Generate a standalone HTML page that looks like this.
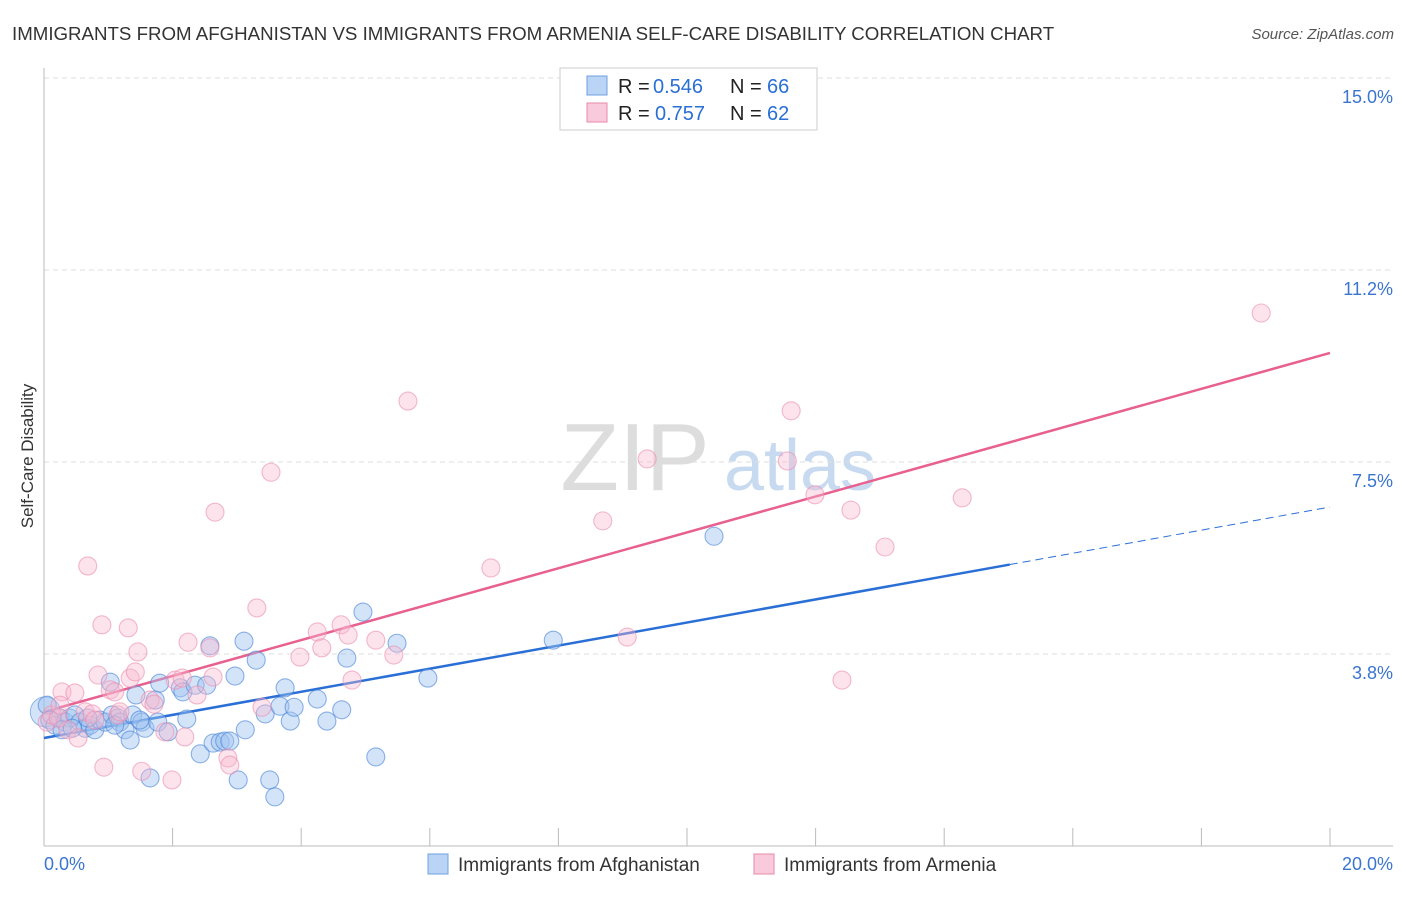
<!DOCTYPE html>
<html><head><meta charset="utf-8"><style>
body{margin:0;background:#fff;font-family:"Liberation Sans",sans-serif}
svg text{font-family:"Liberation Sans",sans-serif}
</style></head><body>
<svg id="chart" width="1406" height="892">
<text x="12" y="40" font-size="18.7" fill="#333">IMMIGRANTS FROM AFGHANISTAN VS IMMIGRANTS FROM ARMENIA SELF-CARE DISABILITY CORRELATION CHART</text>
<text x="1394" y="39" font-size="15" fill="#555" font-style="italic" text-anchor="end">Source: ZipAtlas.com</text>
<text x="33" y="456" font-size="17" fill="#333" transform="rotate(-90 33 456)" text-anchor="middle">Self-Care Disability</text>
<g><text x="635" y="490" font-size="96" fill="#ddd" font-family="Liberation Serif" text-anchor="middle">ZIP</text><text x="800" y="490" font-size="72" fill="#c8daf0" text-anchor="middle">atlas</text></g>
<g id="grid"></g><g id="axes"></g><g id="lines"></g><g id="pts"></g>
<g>
<rect x="560" y="68" width="257" height="62" fill="#fff" stroke="#ccc"/>
<rect x="587" y="76" width="20" height="19" fill="#b9d4f4" stroke="#6f9fe0"/>
<rect x="587" y="103" width="20" height="19" fill="#f9cadb" stroke="#e88aab"/>
<text x="618" y="93" font-size="20" fill="#222">R =</text><text x="653" y="93" font-size="20" fill="#2a6fd6">0.546</text>
<text x="730" y="93" font-size="20" fill="#222">N =</text><text x="767" y="93" font-size="20" fill="#2a6fd6">66</text>
<text x="618" y="120" font-size="20" fill="#222">R =</text><text x="655" y="120" font-size="20" fill="#2a6fd6">0.757</text>
<text x="730" y="120" font-size="20" fill="#222">N =</text><text x="767" y="120" font-size="20" fill="#2a6fd6">62</text>
</g>
<g>
<rect x="428" y="854" width="20" height="20" fill="#b9d4f4" stroke="#6f9fe0"/>
<text x="458" y="871" font-size="19" fill="#333">Immigrants from Afghanistan</text>
<rect x="754" y="854" width="20" height="20" fill="#f9cadb" stroke="#e88aab"/>
<text x="784" y="871" font-size="19" fill="#333">Immigrants from Armenia</text>
</g>
</svg>
<script>
const yTicks=[3.75,7.5,11.25,15];
const yTickLabels=["3.8%","7.5%","11.2%","15.0%"];
const xTicks=[0,2,4,6,8,10,12,14,16,18,20];
const blueX=[0.05,0.09,0.17,0.25,0.33,0.40,0.48,0.56,0.64,0.72,0.79,0.87,0.95,1.03,1.06,1.15,1.18,1.26,1.34,1.38,1.43,1.52,1.57,1.65,1.73,1.77,1.80,1.93,2.12,2.16,2.22,2.35,2.43,2.53,2.58,2.63,2.74,2.81,2.89,2.97,3.02,3.11,3.13,3.30,3.44,3.51,3.59,3.67,3.75,3.83,3.89,4.25,4.40,4.63,4.71,4.96,5.16,5.49,5.97,7.92,10.42,0.28,0.44,0.68,1.10,1.49];
const blueY=[2.75,2.46,2.36,2.50,2.42,2.50,2.56,2.42,2.30,2.36,2.27,2.46,2.42,3.20,2.56,2.50,2.42,2.27,2.07,2.56,2.95,2.42,2.30,1.33,2.85,2.42,3.18,2.23,3.09,3.01,2.48,3.14,1.80,3.14,3.91,2.01,2.03,2.05,2.05,3.32,1.29,4.00,2.27,3.63,2.58,1.29,0.96,2.73,3.09,2.44,2.71,2.87,2.44,2.66,3.67,4.57,1.74,3.96,3.28,4.02,6.05,2.27,2.30,2.50,2.36,2.46];
const pinkX=[0.05,0.12,0.22,0.28,0.37,0.48,0.53,0.64,0.68,0.75,0.84,0.90,0.93,1.03,1.10,1.15,1.18,1.31,1.34,1.42,1.46,1.52,1.65,1.71,1.88,1.99,2.04,2.15,2.19,2.24,2.38,2.58,2.63,2.66,2.86,2.89,3.31,3.39,3.53,3.98,4.25,4.32,4.62,4.73,4.79,5.16,5.44,5.66,6.95,8.69,9.07,9.38,11.56,11.62,11.99,12.41,12.55,13.08,14.28,18.93,0.25,0.79];
const pinkY=[2.42,2.56,2.50,3.01,2.27,2.99,2.11,2.62,5.47,2.58,3.34,4.32,1.54,3.05,3.01,2.56,2.62,4.26,3.28,3.40,3.79,1.46,2.85,2.77,2.23,1.29,3.24,3.28,2.13,3.98,2.95,3.87,3.30,6.52,1.72,1.58,4.65,2.71,7.30,3.69,4.18,3.87,4.32,4.12,3.24,4.02,3.73,8.69,5.43,6.35,4.08,7.56,7.52,8.50,6.86,3.24,6.56,5.84,6.80,10.41,2.75,2.46];
const blueLine=[2.11,6.62]; const blueSolidEnd=15.02;
const pinkLine=[2.62,9.63];
const X=v=>44+v*64.3, Y=v=>846-v*51.2;
const NS="http://www.w3.org/2000/svg";
function mk(t,a,p){const e=document.createElementNS(NS,t);for(const k in a)e.setAttribute(k,a[k]);p.appendChild(e);return e;}
const grid=document.getElementById('grid'),axes=document.getElementById('axes');
yTicks.forEach((v,i)=>{
 const g=mk('line',{x1:44,x2:1393,y1:Y(v),y2:Y(v),stroke:'#ddd','stroke-dasharray':'5,4'},grid);
 
 
 const t=mk('text',{x:1393,y:Y(v)+25,'font-size':18,fill:'#3a75d0','text-anchor':'end'},axes);
 t.textContent=yTickLabels[i];
 
 
});
const ax=mk('line',{x1:44,x2:1393,y1:846,y2:846,stroke:'#bbb'},axes);


const ay=mk('line',{x1:44,x2:44,y1:68,y2:846,stroke:'#bbb'},axes);


xTicks.forEach(v=>{const t=mk('line',{x1:X(v),x2:X(v),y1:828,y2:846,stroke:'#bbb'},axes);
 
 });
[[0,"0.0%",'start',44],[20,"20.0%",'end',1393]].forEach(a=>{const t=mk('text',{x:a[3],y:870,'font-size':18,fill:'#3a75d0','text-anchor':a[2]},axes);t.textContent=a[1];
 
 });
const pts=document.getElementById('pts');
const big=mk('circle',{cx:X(0.02),cy:Y(2.62),r:15,fill:'rgba(160,195,240,0.45)',stroke:'rgba(80,140,220,0.6)'},pts);


blueX.forEach((x,i)=>{const c=mk('circle',{cx:X(x),cy:Y(blueY[i]),r:9,fill:'rgba(160,195,240,0.45)',stroke:'rgba(70,130,215,0.6)','stroke-width':1.1},pts);
 
 });
pinkX.forEach((x,i)=>{const c=mk('circle',{cx:X(x),cy:Y(pinkY[i]),r:9,fill:'rgba(248,185,208,0.4)',stroke:'rgba(235,140,175,0.6)','stroke-width':1.1},pts);
 
 });
const L=document.getElementById('lines');
const by=x=>blueLine[0]+(blueLine[1]-blueLine[0])*x/20;
const l1=mk('line',{x1:X(0),y1:Y(by(0)),x2:X(blueSolidEnd),y2:Y(by(blueSolidEnd)),stroke:'#2a6fd6','stroke-width':2.5},L);


const l2=mk('line',{x1:X(blueSolidEnd),y1:Y(by(blueSolidEnd)),x2:X(20),y2:Y(by(20)),stroke:'#2a6fd6','stroke-width':1,'stroke-dasharray':'8,5'},L);


const l3=mk('line',{x1:X(0),y1:Y(pinkLine[0]),x2:X(20),y2:Y(pinkLine[1]),stroke:'#e8608f','stroke-width':2.5},L);


</script>
</body></html>
